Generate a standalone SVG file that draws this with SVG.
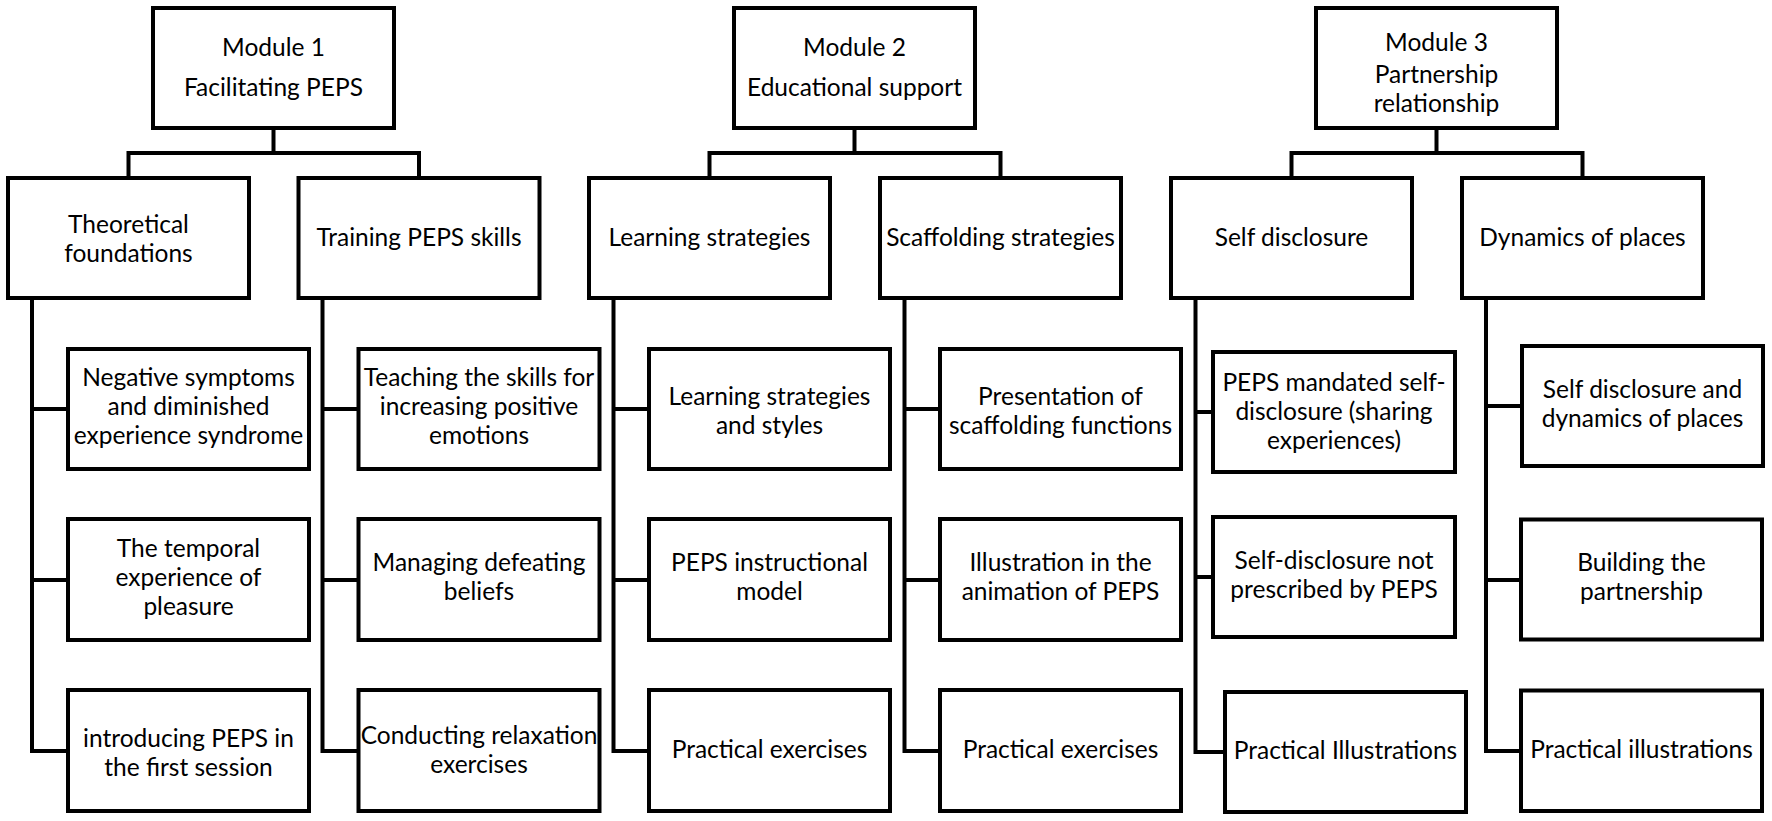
<svg xmlns="http://www.w3.org/2000/svg" width="1772" height="821" viewBox="0 0 1772 821">
<style>
rect{fill:#fff;stroke:#000;stroke-width:4}
.c path{fill:none;stroke:#000;stroke-width:4;stroke-linejoin:miter}
text{font-family:Lato,"Liberation Sans",sans-serif;font-size:24.5px;fill:#000;text-anchor:middle}
</style>
<rect x="0" y="0" width="1772" height="821" style="stroke:none"/>
<g class="c" id="connectors">
<path d="M273.5 128V153M128.5 178V153H419V178"/>
<path d="M854.5 128V153M709.5 178V153H1000.5V178"/>
<path d="M1436.5 128V153M1291.5 178V153H1582.5V178"/>
<path d="M32 298V751H68M32 409H68M32 580H68"/>
<path d="M322.5 298V751H358.5M322.5 409H358.5M322.5 580H358.5"/>
<path d="M613.5 298V751H649M613.5 409H649M613.5 580H649"/>
<path d="M904.5 298V751H940M904.5 409H940M904.5 580H940"/>
<path d="M1195.5 298V752H1225M1195.5 412H1213M1195.5 577H1213"/>
<path d="M1486 298V751H1521M1486 406H1522M1486 580H1521"/>
</g>
<g id="m1"><rect x="153" y="8" width="241" height="120"/><text x="273.5" y="56">Module 1</text><text x="273.5" y="96">Facilitating PEPS</text></g>
<g id="m2"><rect x="734" y="8" width="241" height="120"/><text x="854.5" y="56">Module 2</text><text x="854.5" y="96">Educational support</text></g>
<g id="m3"><rect x="1316" y="8" width="241" height="120"/><text x="1436.5" y="51">Module 3</text><text x="1436.5" y="83">Partnership<tspan x="1436.5" y="112">relationship</tspan></text></g>
<g id="s1"><rect x="8" y="178" width="241" height="120"/><text x="128.5" y="233">Theoretical</text><text x="128.5" y="262">foundations</text></g>
<g id="s2"><rect x="298.5" y="178" width="241" height="120"/><text x="419" y="246">Training PEPS skills</text></g>
<g id="s3"><rect x="589" y="178" width="241" height="120"/><text x="709.5" y="246">Learning strategies</text></g>
<g id="s4"><rect x="880" y="178" width="241" height="120"/><text x="1000.5" y="246">Scaffolding strategies</text></g>
<g id="s5"><rect x="1171" y="178" width="241" height="120"/><text x="1291.5" y="246">Self disclosure</text></g>
<g id="s6"><rect x="1462" y="178" width="241" height="120"/><text x="1582.5" y="246">Dynamics of places</text></g>
<g id="l11"><rect x="68" y="349" width="241" height="120"/><text x="188.5" y="386">Negative symptoms</text><text x="188.5" y="415">and diminished</text><text x="188.5" y="444">experience syndrome</text></g>
<g id="l12"><rect x="68" y="519" width="241" height="121"/><text x="188.5" y="556.5">The temporal</text><text x="188.5" y="585.5">experience of</text><text x="188.5" y="614.5">pleasure</text></g>
<g id="l13"><rect x="68" y="690" width="241" height="121"/><text x="188.5" y="747">introducing PEPS in</text><text x="188.5" y="776">the first session</text></g>
<g id="l21"><rect x="358.5" y="349" width="241" height="120"/><text x="479" y="386">Teaching the skills for</text><text x="479" y="415">increasing positive</text><text x="479" y="444">emotions</text></g>
<g id="l22"><rect x="358.5" y="519" width="241" height="121"/><text x="479" y="571">Managing defeating</text><text x="479" y="600">beliefs</text></g>
<g id="l23"><rect x="358.5" y="690" width="241" height="121"/><text x="479" y="744">Conducting relaxation</text><text x="479" y="773">exercises</text></g>
<g id="l31"><rect x="649" y="349" width="241" height="120"/><text x="769.5" y="404.5">Learning strategies</text><text x="769.5" y="433.5">and styles</text></g>
<g id="l32"><rect x="649" y="519" width="241" height="121"/><text x="769.5" y="571">PEPS instructional</text><text x="769.5" y="600">model</text></g>
<g id="l33"><rect x="649" y="690" width="241" height="121"/><text x="769.5" y="757.5">Practical exercises</text></g>
<g id="l41"><rect x="940" y="349" width="241" height="120"/><text x="1060.5" y="404.5">Presentation of</text><text x="1060.5" y="433.5">scaffolding functions</text></g>
<g id="l42"><rect x="940" y="519" width="241" height="121"/><text x="1060.5" y="571">Illustration in the</text><text x="1060.5" y="600">animation of PEPS</text></g>
<g id="l43"><rect x="940" y="690" width="241" height="121"/><text x="1060.5" y="757.5">Practical exercises</text></g>
<g id="l51"><rect x="1213" y="352" width="242" height="120"/><text x="1334" y="391">PEPS mandated self-</text><text x="1334" y="420">disclosure (sharing</text><text x="1334" y="449">experiences)</text></g>
<g id="l52"><rect x="1213" y="517" width="242" height="120"/><text x="1334" y="568.5">Self-disclosure not</text><text x="1334" y="597.5">prescribed by PEPS</text></g>
<g id="l53"><rect x="1225" y="692" width="241" height="120"/><text x="1345.5" y="759">Practical Illustrations</text></g>
<g id="l61"><rect x="1522" y="346" width="241" height="120"/><text x="1642.5" y="397.5">Self disclosure and</text><text x="1642.5" y="426.5">dynamics of places</text></g>
<g id="l62"><rect x="1521" y="519.5" width="241" height="120"/><text x="1641.5" y="571">Building the</text><text x="1641.5" y="600">partnership</text></g>
<g id="l63"><rect x="1521" y="690.5" width="241" height="120.5"/><text x="1641.5" y="757.5">Practical illustrations</text></g>
</svg>
